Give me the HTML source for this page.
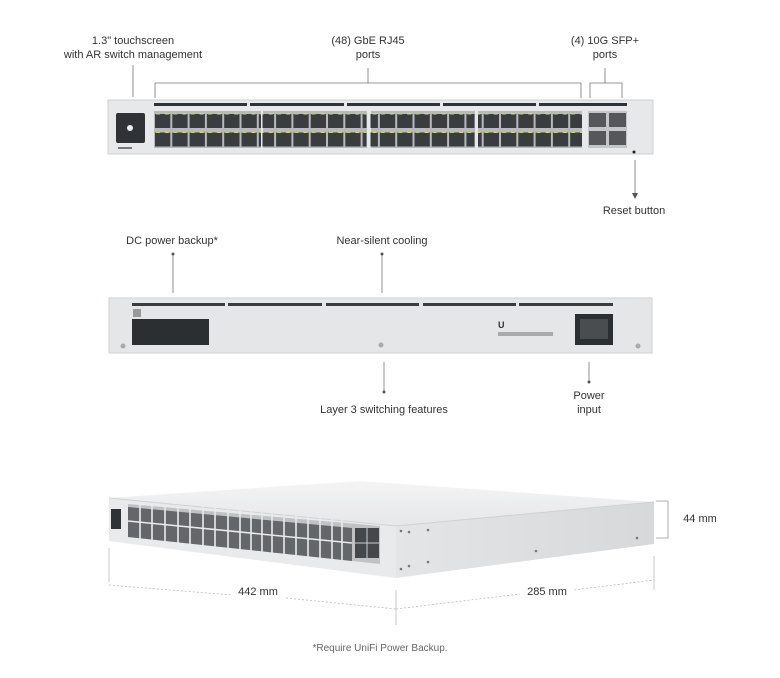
<!DOCTYPE html>
<html><head><meta charset="utf-8"><style>
body{margin:0;background:#fff;}
svg{display:block;font-family:"Liberation Sans",sans-serif;}
text{fill:#333;font-size:11px;}
</style></head><body>
<svg width="780" height="678" viewBox="0 0 780 678" xmlns="http://www.w3.org/2000/svg">
<defs>
<pattern id="pf" x="154" y="113" width="17.3" height="18.5" patternUnits="userSpaceOnUse">
<rect x="1" y="1" width="15.3" height="14" fill="#3a3d40"/>
<rect x="2" y="0" width="4" height="1.5" fill="#b8d84a"/>
<rect x="11" y="0" width="4" height="1.5" fill="#e2d25a"/>
</pattern>
<pattern id="pp" x="112" y="505" width="7.3" height="12" patternUnits="userSpaceOnUse">
<rect x="0.6" y="1" width="6" height="8" fill="#45484b"/>
<rect x="1" y="0" width="2" height="1" fill="#b8d84a"/>
</pattern>
<linearGradient id="top" x1="0" y1="0" x2="0" y2="1"><stop offset="0" stop-color="#f4f4f5"/><stop offset="1" stop-color="#e6e7e9"/></linearGradient>
<linearGradient id="side" x1="0" y1="0" x2="1" y2="0"><stop offset="0" stop-color="#e4e5e7"/><stop offset="1" stop-color="#d6d8da"/></linearGradient>
</defs>

<!-- top labels -->
<text x="133" y="44" text-anchor="middle">1.3" touchscreen</text>
<text x="133" y="58" text-anchor="middle">with AR switch management</text>
<text x="368" y="44" text-anchor="middle">(48) GbE RJ45</text>
<text x="368" y="58" text-anchor="middle">ports</text>
<text x="605" y="44" text-anchor="middle">(4) 10G SFP+</text>
<text x="605" y="58" text-anchor="middle">ports</text>
<g stroke="#777" stroke-width="0.8" fill="none">
<line x1="133" y1="65" x2="133" y2="97"/>
<polyline points="155,98 155,83 581,83 581,98"/>
<line x1="368" y1="68" x2="368" y2="83"/>
<polyline points="590,98 590,83 622,83 622,98"/>
<line x1="605" y1="68" x2="605" y2="83"/>
<line x1="635" y1="160" x2="635" y2="196"/>
</g>
<path d="M632,193 L635,199 L638,193Z" fill="#555"/>
<text x="634" y="214" text-anchor="middle">Reset button</text>

<!-- front switch -->
<rect x="108" y="100" width="545" height="54" fill="#e7e8ea" stroke="#cfd1d3"/>
<rect x="116" y="113" width="29" height="30" rx="2" fill="#2f3236"/>
<circle cx="130" cy="128" r="3" fill="#eee"/>
<rect x="118" y="147" width="14" height="2" fill="#777"/>
<g fill="#2f3236">
<rect x="154" y="103" width="93" height="3"/><rect x="250" y="103" width="94" height="3"/><rect x="347" y="103" width="93" height="3"/><rect x="443" y="103" width="93" height="3"/><rect x="539" y="103" width="88" height="3"/>
</g>
<g fill="#b7b9bc">
<rect x="154" y="111" width="107" height="37"/><rect x="263" y="111" width="104" height="37"/><rect x="371" y="111" width="104" height="37"/><rect x="478" y="111" width="104" height="37"/>
</g>
<g fill="url(#pf)">
<rect x="154" y="113" width="107" height="35"/><rect x="262.5" y="113" width="104" height="35"/><rect x="370.5" y="113" width="104" height="35"/><rect x="478" y="113" width="104" height="35"/>
</g>
<rect x="588" y="111" width="39" height="37" fill="#c3c5c7"/>
<rect x="589" y="113" width="17" height="14" fill="#55585b"/><rect x="609" y="113" width="17" height="14" fill="#55585b"/>
<rect x="589" y="131" width="17" height="14" fill="#55585b"/><rect x="609" y="131" width="17" height="14" fill="#55585b"/>
<circle cx="634" cy="152" r="1.5" fill="#222"/>

<!-- rear labels -->
<text x="172" y="244" text-anchor="middle">DC power backup*</text>
<text x="382" y="244" text-anchor="middle">Near-silent cooling</text>
<g stroke="#777" stroke-width="0.8"><line x1="173" y1="254" x2="173" y2="293"/><line x1="382" y1="254" x2="382" y2="293"/>
<line x1="384" y1="362" x2="384" y2="392"/><line x1="589" y1="362" x2="589" y2="382"/></g>
<circle cx="173" cy="254" r="1.5" fill="#555"/><circle cx="382" cy="254" r="1.5" fill="#555"/>
<circle cx="384" cy="392" r="1.5" fill="#555"/><circle cx="589" cy="382" r="1.5" fill="#555"/>
<text x="384" y="413" text-anchor="middle">Layer 3 switching features</text>
<text x="589" y="399" text-anchor="middle">Power</text>
<text x="589" y="413" text-anchor="middle">input</text>

<!-- rear switch -->
<rect x="109" y="298" width="543" height="55" fill="#e5e6e8" stroke="#cfd1d3"/>
<g fill="#3a3d40"><rect x="132" y="303" width="93" height="3"/><rect x="228" y="303" width="94" height="3"/><rect x="326" y="303" width="93" height="3"/><rect x="423" y="303" width="93" height="3"/><rect x="519" y="303" width="94" height="3"/></g>
<rect x="132" y="319" width="77" height="26" fill="#2c2f32"/>
<rect x="133" y="309" width="8" height="8" fill="#999"/>
<rect x="575" y="314" width="38" height="31" fill="#2c2f32"/>
<rect x="580" y="319" width="28" height="20" fill="#4a4d50"/>
<text x="498" y="328" style="font-size:9px;font-weight:bold;fill:#333">U</text>
<rect x="498" y="332" width="55" height="4" fill="#aaa"/>
<circle cx="123" cy="346" r="2.5" fill="#aaa"/><circle cx="381" cy="345" r="2.5" fill="#aaa"/><circle cx="638" cy="346" r="2.5" fill="#aaa"/>

<!-- perspective switch -->
<polygon points="109,498 360,481 654,502 396,526" fill="url(#top)"/>
<polygon points="396,526 654,502 654,544 396,578" fill="url(#side)"/>
<polygon points="109,498 396,526 396,578 109,541" fill="#e9eaec"/>
<polyline points="109,498 396,526 654,502" fill="none" stroke="#cfd1d3"/>
<rect x="111" y="509" width="10" height="20" fill="#2f3236"/>
<polygon points="128,504 380,526 380,564 128,537" fill="#c0c2c4"/>
<polygon points="128,507 352,528 352,561 128,537" fill="#45484b" opacity="0.75"/>
<g stroke="#e9eaec" stroke-width="1.6">
<line x1="128" y1="521" x2="352" y2="543"/>
<line x1="178" y1="505" x2="178" y2="545"/><line x1="228" y1="508" x2="228" y2="550"/><line x1="272" y1="512" x2="272" y2="555"/><line x1="320" y1="518" x2="320" y2="560"/>
<line x1="140" y1="505" x2="140" y2="540"/><line x1="152" y1="505" x2="152" y2="542"/><line x1="165" y1="505" x2="165" y2="543"/>
<line x1="190" y1="506" x2="190" y2="546"/><line x1="203" y1="506" x2="203" y2="547"/><line x1="215" y1="507" x2="215" y2="548"/>
<line x1="240" y1="509" x2="240" y2="551"/><line x1="251" y1="510" x2="251" y2="552"/><line x1="262" y1="511" x2="262" y2="554"/>
<line x1="284" y1="513" x2="284" y2="556"/><line x1="296" y1="515" x2="296" y2="558"/><line x1="308" y1="516" x2="308" y2="559"/>
<line x1="332" y1="519" x2="332" y2="561"/><line x1="342" y1="520" x2="342" y2="562"/>
</g>
<rect x="355" y="528" width="24" height="30" fill="#45484b"/>
<line x1="355" y1="543" x2="379" y2="543" stroke="#ccc"/><line x1="367" y1="528" x2="367" y2="558" stroke="#ccc"/>
<g fill="#777"><circle cx="401" cy="531" r="1.3"/><circle cx="409" cy="532" r="1.3"/><circle cx="428" cy="530" r="1.3"/><circle cx="401" cy="569" r="1.3"/><circle cx="409" cy="566" r="1.3"/><circle cx="428" cy="562" r="1.3"/><circle cx="536" cy="551" r="1.3"/><circle cx="637" cy="538" r="1.3"/></g>

<!-- dims -->
<g stroke="#bbb" stroke-width="0.8" fill="none">
<line x1="109" y1="548" x2="109" y2="582"/><line x1="396" y1="590" x2="396" y2="625"/><line x1="654" y1="556" x2="654" y2="590"/>
<g stroke-dasharray="2,2"><line x1="109" y1="585" x2="232" y2="595"/><line x1="286" y1="598" x2="396" y2="609"/><line x1="396" y1="609" x2="520" y2="594"/><line x1="574" y1="590" x2="654" y2="580"/></g>
<polyline points="656,501 668,501 668,538 656,538" stroke="#999"/>
</g>
<text x="258" y="595" text-anchor="middle">442 mm</text>
<text x="547" y="595" text-anchor="middle">285 mm</text>
<text x="700" y="522" text-anchor="middle">44 mm</text>
<text x="380" y="651" text-anchor="middle" style="font-size:10px;fill:#666">*Require UniFi Power Backup.</text>
</svg>
</body></html>
